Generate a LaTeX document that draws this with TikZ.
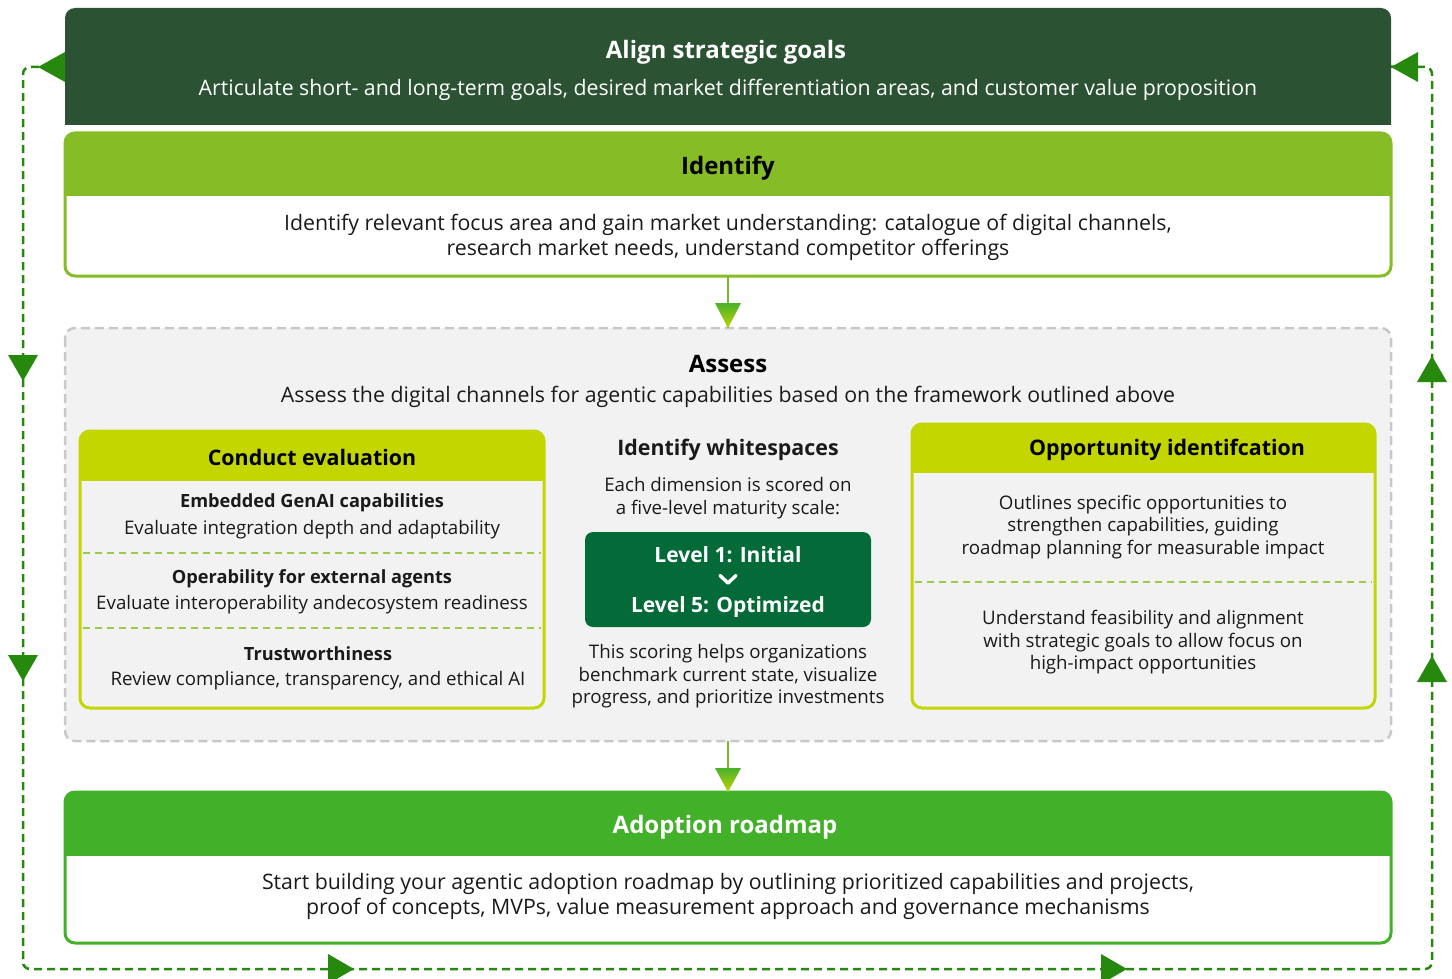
\documentclass[tikz,border=0pt]{standalone}
\usepackage{fontspec}
\setmainfont{Open Sans}
\usetikzlibrary{calc}

\definecolor{aligndark}{HTML}{2C5234}
\definecolor{idgreen}{HTML}{86BC25}
\definecolor{lime}{HTML}{C4D600}
\definecolor{adoptgreen}{HTML}{43B02A}
\definecolor{loopgreen}{HTML}{26890D}
\definecolor{leveldark}{HTML}{046A38}
\definecolor{panelgray}{HTML}{F2F2F2}
\definecolor{bordergray}{HTML}{C8C8C8}
\definecolor{sepgreen}{HTML}{9CCB4A}
\definecolor{stemgreen}{HTML}{7AB929}
\definecolor{txt}{HTML}{1A1A1A}

\tikzset{
  box/.style={anchor=north west, inner sep=0pt, outer sep=0pt},
  label/.style={inner sep=0pt, yshift=-3pt},
  bodyL/.style={label, font=\fontsize{21.3}{25}\selectfont, align=center, text=txt},
  bodyS/.style={label, font=\fontsize{18.7}{22.5}\selectfont, align=center, text=txt},
  headL/.style={label, font=\fontsize{24}{28}\selectfont\bfseries, align=center},
  headM/.style={label, font=\fontsize{21.4}{25}\selectfont\bfseries, align=center},
  subhead/.style={label, font=\fontsize{18.2}{22.5}\selectfont\bfseries, align=center, text=txt},
  levelT/.style={label, font=\fontsize{21}{24}\selectfont\bfseries, text=white},
  loopline/.style={draw=loopgreen, line width=2.5pt, dash pattern=on 8pt off 5pt, rounded corners=7pt},
  looptip/.style={fill=loopgreen},
  sepline/.style={draw=sepgreen, line width=1.5pt, dash pattern=on 7pt off 5pt},
  stem/.style={draw=stemgreen, line width=2.5pt},
}

\begin{document}
\begin{tikzpicture}[x=1pt, y=-1pt]
\useasboundingbox (0,0) rectangle (1452,979);
\clip (0,0) rectangle (1452,979);

% ---------- Align strategic goals ----------
\node[box, minimum width=1326pt, minimum height=117pt] (align) at (65,8) {};
\begin{scope}
  \clip (65,8) rectangle (1391,125);
  \fill[aligndark, rounded corners=10pt] (65,8) rectangle (1391,150);
\end{scope}
\node[headL, text=white] (alignT) at (726,49) {Align strategic goals};
\node[bodyL, text=white] (alignB) at (728,87) {Articulate short- and long-term goals, desired market differentiation areas, and customer value proposition};

% ---------- Identify ----------
\node[box, minimum width=1326pt, minimum height=143pt, fill=white] (ident) at (65,133) {};
\begin{scope}
  \clip (60,128) rectangle (1396,196);
  \fill[idgreen, rounded corners=10pt] (65,133) rectangle (1391,276);
\end{scope}
\draw[idgreen, line width=3pt, rounded corners=10pt] (65,133) rectangle (1391,276);
\node[headL, text=black] (identT) at (728,165) {Identify};
\node[bodyL] (identB) at (728,234) {Identify relevant focus area and gain market understanding: catalogue of digital channels,\\research market needs, understand competitor offerings};

% ---------- Assess ----------
\node[box, minimum width=1326pt, minimum height=413pt] (assess) at (65,328) {};
\draw[fill=panelgray, draw=bordergray, line width=2.5pt, dash pattern=on 9pt off 5pt, rounded corners=10pt] (65,328) rectangle (1391,741);
\node[headL, text=black] (assessT) at (728,361) {Assess};
\node[bodyL] (assessB) at (728,394) {Assess the digital channels for agentic capabilities based on the framework outlined above};

% ---------- Conduct evaluation ----------
\node[box, minimum width=464pt, minimum height=277pt] (conduct) at (80,431) {};
\begin{scope}
  \clip (75,426) rectangle (549,480);
  \fill[lime, rounded corners=10pt] (80,431) rectangle (544,708);
\end{scope}
\draw[lime, line width=3pt, rounded corners=10pt] (80,431) rectangle (544,708);
\node[headM, text=black] (condT) at (312,454) {Conduct evaluation};
\draw[sepline] (83,553) -- (541,553);
\draw[sepline] (83,628) -- (541,628);
\node[subhead] (c1T) at (312,500) {Embedded GenAI capabilities};
\node[bodyS] (c1B) at (312,527) {Evaluate integration depth and adaptability};
\node[subhead] (c2T) at (312,576) {Operability for external agents};
\node[bodyS] (c2B) at (312,602) {Evaluate interoperability andecosystem readiness};
\node[subhead] (c3T) at (318,651) {Trustworthiness};
\node[bodyS] (c3B) at (318,678) {Review compliance, transparency, and ethical AI};

% ---------- Identify whitespaces ----------
\node[headM, text=txt] (wsT) at (728,447) {Identify whitespaces};
\node[bodyS] (wsA) at (728,495) {Each dimension is scored on\\a five-level maturity scale:};
\node[box, minimum width=286pt, minimum height=95pt, fill=leveldark, rounded corners=8pt] (level) at (585,532) {};
\node[levelT] (lv1) at (728,552) {Level 1: Initial};
\draw[white, line width=3.5pt, line cap=round, line join=round] (720,575.5) -- (728,583) -- (736,575.5);
\node[levelT] (lv5) at (728,604) {Level 5: Optimized};
\node[bodyS] (wsB) at (728,673.5) {This scoring helps organizations\\benchmark current state, visualize\\progress, and prioritize investments};

% ---------- Opportunity identification ----------
\node[box, minimum width=463pt, minimum height=284pt] (oppo) at (912,424) {};
\begin{scope}
  \clip (907,419) rectangle (1380,472);
  \fill[lime, rounded corners=10pt] (912,424) rectangle (1375,708);
\end{scope}
\draw[lime, line width=3pt, rounded corners=10pt] (912,424) rectangle (1375,708);
\node[headM, text=black] (oppoT) at (1167,447) {Opportunity identifcation};
\node[bodyS] (o1) at (1143,524) {Outlines specific opportunities to\\strengthen capabilities, guiding\\roadmap planning for measurable impact};
\draw[sepline] (915,582) -- (1372,582);
\node[bodyS] (o2) at (1143,639.5) {Understand feasibility and alignment\\with strategic goals to allow focus on\\high-impact opportunities};

% ---------- Adoption roadmap ----------
\node[box, minimum width=1326pt, minimum height=151pt, fill=white] (adopt) at (65,792) {};
\begin{scope}
  \clip (60,787) rectangle (1396,855);
  \fill[adoptgreen, rounded corners=10pt] (65,792) rectangle (1391,943);
\end{scope}
\draw[adoptgreen, line width=3pt, rounded corners=10pt] (65,792) rectangle (1391,943);
\node[headL, text=white] (adoptT) at (725,824) {Adoption roadmap};
\node[bodyL] (adoptB) at (728,893) {Start building your agentic adoption roadmap by outlining prioritized capabilities and projects,\\proof of concepts, MVPs, value measurement approach and governance mechanisms};

% ---------- Flow arrows between stages ----------
\draw[stem] (ident.south) -- (assess.north);
\shade[top color=adoptgreen!90!idgreen, bottom color=lime!90!idgreen] (715,303) -- (741,303) -- (728,328) -- cycle;
\draw[stem] (assess.south) -- (adopt.north);
\shade[top color=adoptgreen!90!idgreen, bottom color=lime!90!idgreen] (715,768) -- (741,768) -- (728,792) -- cycle;

% ---------- Feedback loop ----------
\coordinate (lTop) at (23,67);
\coordinate (lBot) at (23,969);
\coordinate (rBot) at (1432,969);
\coordinate (rTop) at (1432,67);
\draw[loopline] (align.west) -- (lTop) -- (lBot) -- (rBot) -- (rTop) -- (align.east);
% loop arrowheads
\fill[looptip] (65,52) -- (65,82) -- (38,67) -- cycle;
\fill[looptip] (1418,52) -- (1418,82) -- (1391,67) -- cycle;
\fill[looptip] (8,355) -- (38,355) -- (23,381) -- cycle;
\fill[looptip] (8,655) -- (38,655) -- (23,681) -- cycle;
\fill[looptip] (328,954) -- (328,984) -- (354,969) -- cycle;
\fill[looptip] (1101,954) -- (1101,984) -- (1127,969) -- cycle;
\fill[looptip] (1417,682) -- (1447,682) -- (1432,656) -- cycle;
\fill[looptip] (1417,382) -- (1447,382) -- (1432,356) -- cycle;
\end{tikzpicture}
\end{document}
